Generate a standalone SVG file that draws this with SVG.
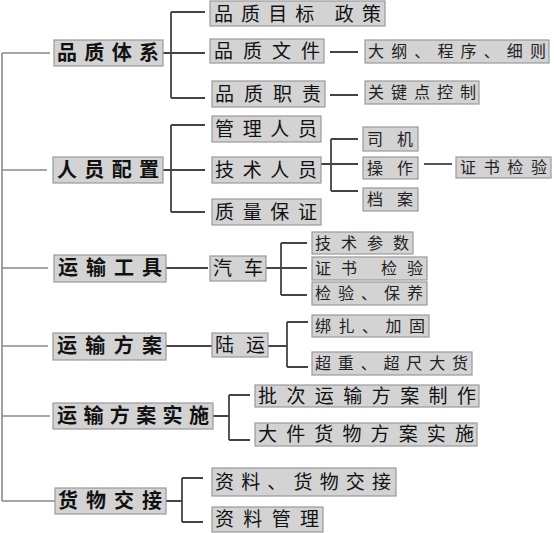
<svg xmlns="http://www.w3.org/2000/svg" width="554" height="533" viewBox="0 0 554 533">
<style>
.b{fill:#d3d3d3;stroke:#9a9a9a;stroke-width:1.2}
.t{font-family:"Noto Sans CJK SC","Noto Sans CJK JP",sans-serif;fill:#111}
.l1{font-size:20px;font-weight:bold}
.l2{font-size:19px}
.l3{font-size:16px;fill:#222}
.main{stroke:#8a8a8a;stroke-width:1.6;fill:none}
.br{stroke:#444;stroke-width:1.8;fill:none}
</style>
<rect width="554" height="533" fill="#fff"/>
<g id="connectors">
<path class="main" d="M2 53V501M2 53H50M2 170H47M2 268H48M2 346H48M2 416H50M2 501H55"/>
<path class="br" d="M163 53H205M171 12V98M171 12H205M171 98H205"/>
<path class="br" d="M330 52H358M330 95H358"/>
<path class="br" d="M163 170H205M171 125V212M171 125H205M171 212H205"/>
<path class="br" d="M321 164H358M331 139V191M331 139H358M331 191H358"/>
<path class="br" d="M424 164H452"/>
<path class="br" d="M166 268H208"/>
<path class="br" d="M266 268H307M281 243V295M281 243H307M281 295H307"/>
<path class="br" d="M166 346H212"/>
<path class="br" d="M268 346H287M287 322V367M287 322H308M287 367H308"/>
<path class="br" d="M213 416H229M229 395V440M229 395H250M229 440H250"/>
<path class="br" d="M166 501H182M182 478V522M182 478H203M182 522H203"/>
</g>
<g id="n1"><rect class="b" x="54" y="40" width="109" height="26"/><text class="t l1" x="57" y="60" textLength="102" lengthAdjust="spacing">品质体系</text></g>
<g id="n2"><rect class="b" x="53" y="157" width="110" height="26"/><text class="t l1" x="57" y="177" textLength="102" lengthAdjust="spacing">人员配置</text></g>
<g id="n3"><rect class="b" x="54" y="255" width="112" height="27"/><text class="t l1" x="58" y="275" textLength="104" lengthAdjust="spacing">运输工具</text></g>
<g id="n4"><rect class="b" x="53" y="333" width="113" height="27"/><text class="t l1" x="57" y="353" textLength="105" lengthAdjust="spacing">运输方案</text></g>
<g id="n5"><rect class="b" x="53" y="403" width="160" height="26"/><text class="t l1" x="57" y="423" textLength="152" lengthAdjust="spacing">运输方案实施</text></g>
<g id="n6"><rect class="b" x="55" y="488" width="111" height="26"/><text class="t l1" x="58" y="508" textLength="104" lengthAdjust="spacing">货物交接</text></g>

<g id="n11"><rect class="b" x="210" y="1" width="175" height="25"/><text class="t l2" x="214" y="21" font-size="18" textLength="167" lengthAdjust="spacing">品质目标 政策</text></g>
<g id="n12"><rect class="b" x="210" y="39" width="114" height="24"/><text class="t l2" x="214" y="58" textLength="106" lengthAdjust="spacing">品质文件</text></g>
<g id="n13"><rect class="b" x="212" y="81" width="113" height="26"/><text class="t l2" x="215" y="101" textLength="106" lengthAdjust="spacing">品质职责</text></g>
<g id="n21"><rect class="b" x="212" y="116" width="109" height="26"/><text class="t l2" x="215" y="136" textLength="102" lengthAdjust="spacing">管理人员</text></g>
<g id="n22"><rect class="b" x="212" y="157" width="109" height="26"/><text class="t l2" x="215" y="177" textLength="102" lengthAdjust="spacing">技术人员</text></g>
<g id="n23"><rect class="b" x="212" y="199" width="109" height="26"/><text class="t l2" x="215" y="219" textLength="102" lengthAdjust="spacing">质量保证</text></g>
<g id="n31"><rect class="b" x="210" y="256" width="56" height="25"/><text class="t l2" x="213" y="275" textLength="50" lengthAdjust="spacing">汽车</text></g>
<g id="n41"><rect class="b" x="212" y="333" width="56" height="24"/><text class="t l2" x="215" y="352" textLength="50" lengthAdjust="spacing">陆运</text></g>
<g id="n51"><rect class="b" x="255" y="385" width="224" height="22"/><text class="t l2" x="258" y="403" textLength="218" lengthAdjust="spacing">批次运输方案制作</text></g>
<g id="n52"><rect class="b" x="255" y="423" width="222" height="23"/><text class="t l2" x="258" y="441" textLength="216" lengthAdjust="spacing">大件货物方案实施</text></g>
<g id="n61"><rect class="b" x="212" y="468" width="184" height="28"/><text class="t l2" x="215" y="489" textLength="176" lengthAdjust="spacing">资料、货物交接</text></g>
<g id="n62"><rect class="b" x="212" y="507" width="111" height="25"/><text class="t l2" x="215" y="526" textLength="104" lengthAdjust="spacing">资料管理</text></g>

<g id="n121"><rect class="b" x="365" y="40" width="184" height="23"/><text class="t l3" x="368" y="57" textLength="178" lengthAdjust="spacing">大纲、程序、细则</text></g>
<g id="n131"><rect class="b" x="365" y="81" width="114" height="23"/><text class="t l3" x="368" y="98" textLength="108" lengthAdjust="spacing">关键点控制</text></g>
<g id="n221"><rect class="b" x="363" y="127" width="55" height="24"/><text class="t l3" x="367" y="145" textLength="46" lengthAdjust="spacing">司机</text></g>
<g id="n222"><rect class="b" x="363" y="157" width="55" height="22"/><text class="t l3" x="367" y="174" textLength="46" lengthAdjust="spacing">操作</text></g>
<g id="n223"><rect class="b" x="363" y="188" width="55" height="23"/><text class="t l3" x="367" y="205" textLength="46" lengthAdjust="spacing">档案</text></g>
<g id="n2221"><rect class="b" x="456" y="157" width="95" height="21"/><text class="t l3" x="460" y="173" textLength="87" lengthAdjust="spacing">证书检验</text></g>
<g id="n311"><rect class="b" x="312" y="232" width="101" height="22"/><text class="t l3" x="315" y="249" textLength="94" lengthAdjust="spacing">技术参数</text></g>
<g id="n312"><rect class="b" x="312" y="257" width="115" height="23"/><text class="t l3" x="315" y="274" textLength="108" lengthAdjust="spacing">证书 检验</text></g>
<g id="n313"><rect class="b" x="312" y="282" width="115" height="23"/><text class="t l3" x="315" y="299" textLength="108" lengthAdjust="spacing">检验、保养</text></g>
<g id="n411"><rect class="b" x="312" y="315" width="117" height="22"/><text class="t l3" x="315" y="332" textLength="110" lengthAdjust="spacing">绑扎、加固</text></g>
<g id="n412"><rect class="b" x="312" y="352" width="160" height="23"/><text class="t l3" x="315" y="369" textLength="153" lengthAdjust="spacing">超重、超尺大货</text></g>
</svg>
